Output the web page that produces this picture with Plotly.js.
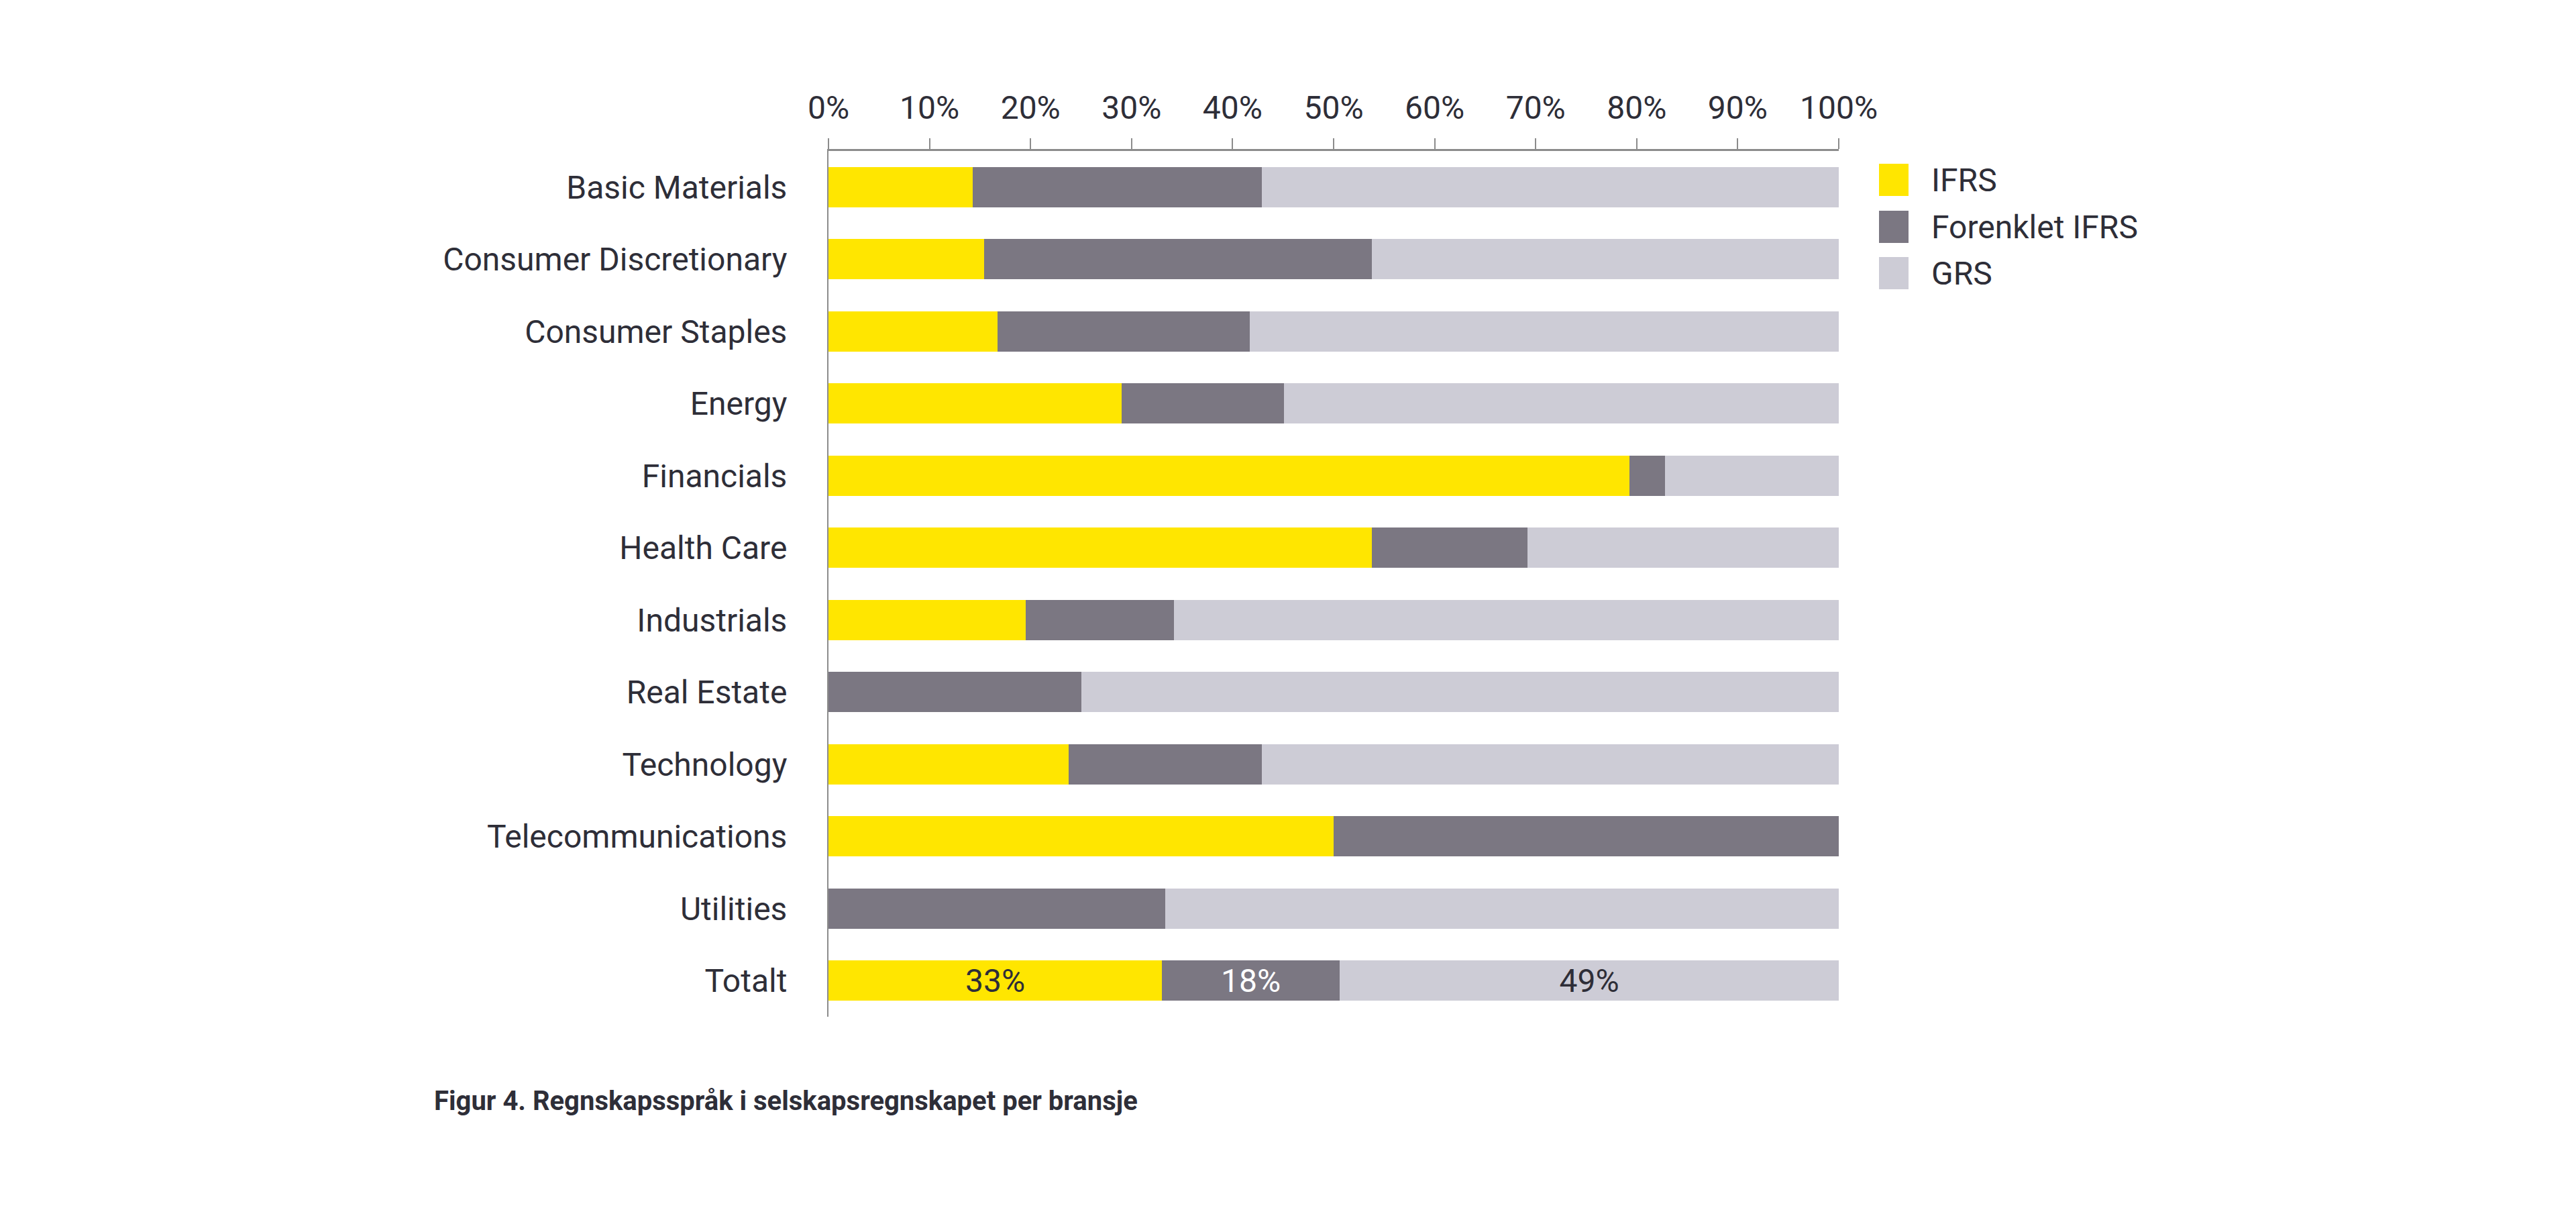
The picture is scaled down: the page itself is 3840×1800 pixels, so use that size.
<!DOCTYPE html>
<html>
<head>
<meta charset="utf-8">
<script src="https://cdn.plot.ly/plotly-3.0.1.min.js"></script>
<style>
  html, body { margin: 0; padding: 0; background: #ffffff; }
  #chart { width: 3840px; height: 1800px; }
</style>
</head>
<body>
<div id="chart"></div>
<script>
// ---- Data (percent of companies per industry) ----
const categories = [
  "Basic Materials", "Consumer Discretionary", "Consumer Staples", "Energy",
  "Financials", "Health Care", "Industrials", "Real Estate", "Technology",
  "Telecommunications", "Utilities", "Totalt"
];
const ifrs      = [14.3, 15.4, 16.7, 29.0, 79.3, 53.8, 19.5, 0,    23.8, 50.0, 0,    33.0];
const forenklet = [28.6, 38.4, 25.0, 16.1,  3.5, 15.4, 14.7, 25.0, 19.1, 50.0, 33.3, 17.6];
const grs       = [57.1, 46.2, 58.3, 54.9, 17.2, 30.8, 65.8, 75.0, 57.1,  0,   66.7, 49.4];
const ifrsText      = ["", "", "", "", "", "", "", "", "", "", "", "33%"];
const forenkletText = ["", "", "", "", "", "", "", "", "", "", "", "18%"];
const grsText       = ["", "", "", "", "", "", "", "", "", "", "", "49%"];
const seriesNames = ["IFRS", "Forenklet IFRS", "GRS"];
const xTickVals   = [0, 10, 20, 30, 40, 50, 60, 70, 80, 90, 100];
const xTickLabels = ["0%", "10%", "20%", "30%", "40%", "50%", "60%", "70%", "80%", "90%", "100%"];
const caption = "Figur 4. Regnskapsspråk i selskapsregnskapet per bransje";

// ---- Styling ----
const COLORS = ["#ffe600", "#7b7782", "#cdccd6"];
const TEXTCOL = ["#2e2e38", "#ffffff", "#2e2e38"];
const FONT = "Roboto, 'Open Sans', sans-serif";
const TXT = "#2e2e38";
const FS = 48;

// plot area in pixels
const W = 3840, H = 1800;
const L = 1235, R = 2741, T = 225, B = 1515;
const px2x = x => (x - L) / (R - L);
const px2y = y => (B - y) / (B - T);

const values = [ifrs, forenklet, grs];
const texts = [ifrsText, forenkletText, grsText];

const traces = values.map((v, i) => ({
  type: "bar",
  orientation: "h",
  name: seriesNames[i],
  y: categories,
  x: v,
  text: texts[i],
  textposition: "inside",
  insidetextanchor: "middle",
  constraintext: "none",
  textfont: { family: FONT, size: FS, color: TEXTCOL[i] },
  marker: { color: COLORS[i], line: { width: 0 } },
  showlegend: false,
  hoverinfo: "x+y+name"
}));

// custom legend (large square swatches)
const legendCentersY = [268, 338, 407];
const shapes = [];
const annotations = [];
seriesNames.forEach((n, i) => {
  const cy = legendCentersY[i];
  shapes.push({
    type: "rect", xref: "paper", yref: "paper",
    x0: px2x(2801), x1: px2x(2845),
    y0: px2y(cy + 24), y1: px2y(cy - 24),
    fillcolor: COLORS[i], line: { width: 0 }
  });
  annotations.push({
    xref: "paper", yref: "paper",
    x: px2x(2877), y: px2y(cy),
    xanchor: "left", yanchor: "middle",
    text: n, showarrow: false,
    font: { family: FONT, size: FS, color: TXT }
  });
});
annotations.push({
  xref: "paper", yref: "paper",
  x: px2x(645), y: px2y(1640),
  xanchor: "left", yanchor: "middle",
  text: "<b>" + caption + "</b>", showarrow: false,
  font: { family: FONT, size: 40, color: TXT }
});

const layout = {
  width: W, height: H,
  margin: { l: L, r: W - R, t: T, b: H - B, pad: 0 },
  paper_bgcolor: "#ffffff",
  plot_bgcolor: "#ffffff",
  barmode: "stack",
  bargap: 0.44,
  font: { family: FONT, size: FS, color: TXT },
  xaxis: {
    side: "top",
    range: [0, 100],
    tickmode: "array",
    tickvals: xTickVals,
    ticktext: xTickLabels,
    ticks: "outside",
    ticklen: 16,
    tickwidth: 2,
    tickcolor: "#8c8c8c",
    showline: true,
    linecolor: "#8c8c8c",
    linewidth: 3,
    showgrid: false,
    zeroline: false,
    ticklabelstandoff: 10,
    tickfont: { family: FONT, size: FS, color: TXT },
    fixedrange: true
  },
  yaxis: {
    type: "category",
    categoryorder: "array",
    categoryarray: categories,
    range: [11.5, -0.5],
    showline: true,
    linecolor: "#8c8c8c",
    linewidth: 2,
    ticks: "",
    showgrid: false,
    zeroline: false,
    ticklabelstandoff: 50,
    tickfont: { family: FONT, size: FS, color: TXT },
    fixedrange: true
  },
  shapes: shapes,
  annotations: annotations,
  showlegend: false
};

Plotly.newPlot("chart", traces, layout, { displayModeBar: false, staticPlot: true });
</script>
</body>
</html>
